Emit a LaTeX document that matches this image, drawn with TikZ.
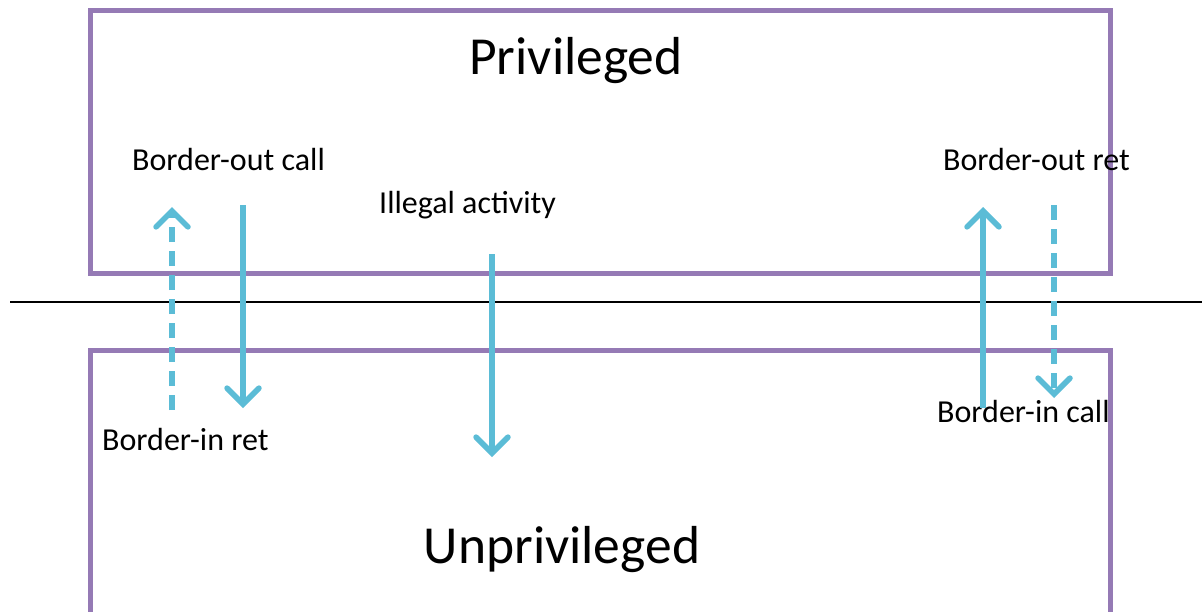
\documentclass[tikz,border=0pt]{standalone}
\usepackage{fontspec}
\setmainfont{Carlito}
\usetikzlibrary{arrows.meta}
\definecolor{zonepurple}{RGB}{149,122,181}
\definecolor{flowcyan}{RGB}{91,188,214}
\tikzset{
  zone/.style={draw=zonepurple, line width=5pt, line join=miter},
  flow/.style={draw=flowcyan, line width=5.5pt,
    -{Straight Barb[length=16pt, width=32pt, line cap=round]}},
  flowdash/.style={flow, dash pattern=on 15pt off 9pt},
  smalllabel/.style={font=\fontsize{32}{38}\selectfont, inner sep=0pt, anchor=base west},
  biglabel/.style={font=\fontsize{53.5}{64}\selectfont, inner sep=0pt, anchor=base},
}
\begin{document}
\begin{tikzpicture}[x=1pt, y=-1pt]
\useasboundingbox (0,0) rectangle (1202,611);

% privilege levels
\draw[zone] (90,10) rectangle (1110,273);
\draw[zone] (90,620) -- (90,350) -- (1110,350) -- (1110,620);

% boundary between the two levels
\coordinate (bl) at (10,302);
\coordinate (br) at (1202,302);
\draw[black, line width=1.6pt] (bl) -- (br);

% level titles
\node[biglabel] (priv) at (576,74) {Privileged};
\node[biglabel] (unpriv) at (562,563) {Unprivileged};

% transition labels
\node[smalllabel] (boc) at (132,170) {Border-out call};
\node[smalllabel] (ill) at (379,213) {Illegal activity};
\node[smalllabel] (bor) at (943,170) {Border-out ret};
\node[smalllabel] (bir) at (102,450) {Border-in ret};
\node[smalllabel] (bic) at (937,422) {Border-in call};

% arrow end points
\coordinate (a1s) at (172,410); \coordinate (a1e) at (172,207);
\coordinate (a2s) at (243,205); \coordinate (a2e) at (243,408);
\coordinate (a3s) at (492,254); \coordinate (a3e) at (492,457);
\coordinate (a4s) at (983,408); \coordinate (a4e) at (983,207);
\coordinate (a5s) at (1054,205); \coordinate (a5e) at (1054,398);

% transitions
\draw[flowdash] (a1s) -- (a1e);
\draw[flow] (a2s) -- (a2e);
\draw[flow] (a3s) -- (a3e);
\draw[flow] (a4s) -- (a4e);
\draw[flowdash] (a5s) -- (a5e);
\end{tikzpicture}
\end{document}
